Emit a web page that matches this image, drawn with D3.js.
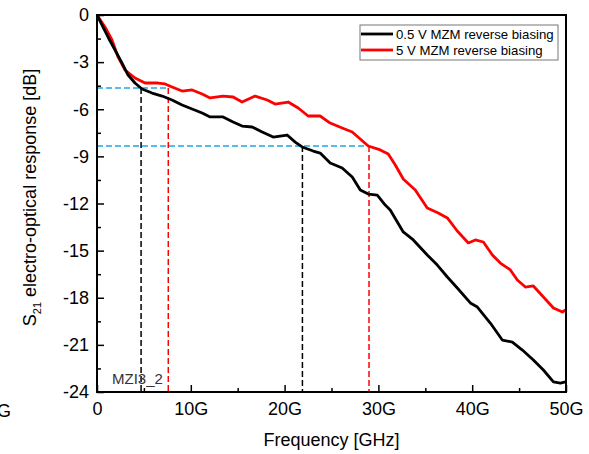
<!DOCTYPE html>
<html>
<head>
<meta charset="utf-8">
<script src="https://cdn.jsdelivr.net/npm/d3@7"></script>
<style>
  body { margin: 0; background: #fff; }
  svg { display: block; font-family: "Liberation Sans", Arial, sans-serif; }
</style>
</head>
<body>
<div id="chart"></div>
<script>
// Frequency in GHz, response in dB
const freqLow = [0, 1.17, 1.92, 2.67, 3.31, 4.05, 4.8, 5.87, 6.94, 8.0, 9.07, 10.14, 11.21, 12.06, 13.44,
    14.51, 15.47, 16.54, 17.61, 18.78, 20.27, 21.13, 21.87, 23.05, 23.79, 24.54, 24.86, 26.14, 27.21,
    28.07, 28.92, 29.88, 30.73, 31.26, 32.65, 33.72, 35.21, 36.28, 37.35, 38.41, 39.8, 40.55, 41.93,
    43.21, 44.28, 45.35, 46.52, 47.59, 48.66, 49.4, 49.94];
const respLow = [0, -1.4, -2.23, -3.06, -3.82, -4.33, -4.71, -4.97, -5.16, -5.41, -5.73, -5.98, -6.24, -6.49, -6.49,
    -6.81, -7.07, -7.13, -7.45, -7.77, -7.64, -8.09, -8.4, -8.66, -8.79, -9.23, -9.42, -9.74, -10.31,
    -11.14, -11.4, -11.46, -12.1, -12.41, -13.81, -14.32, -15.28, -15.92, -16.68, -17.38, -18.33, -18.59, -19.61,
    -20.69, -20.82, -21.33, -21.96, -22.6, -23.36, -23.43, -23.36];

const freqHigh = [0, 0.85, 1.6, 2.24, 2.99, 4.05, 5.12, 6.51, 7.26, 8.0, 9.07, 10.14, 11.21, 12.06, 13.44,
    14.51, 15.47, 16.86, 18.14, 18.99, 20.38, 21.45, 22.51, 23.79, 24.86, 26.14, 27.21, 28.06, 28.92,
    30.2, 31.05, 31.8, 32.65, 33.93, 35.21, 36.38, 37.35, 38.41, 39.59, 40.33, 41.19, 42.15, 43.0,
    44.07, 44.81, 45.67, 46.52, 47.59, 48.66, 49.62, 49.94];
const respHigh = [0, -0.76, -1.59, -2.67, -3.5, -4.01, -4.33, -4.33, -4.39, -4.58, -4.84, -4.77, -5.03, -5.28, -5.16,
    -5.22, -5.54, -5.16, -5.41, -5.67, -5.54, -5.92, -6.43, -6.43, -6.88, -7.19, -7.45, -7.89, -8.34,
    -8.59, -8.85, -9.55, -10.44, -11.14, -12.29, -12.61, -12.92, -13.75, -14.51, -14.32, -14.45, -15.28, -15.79,
    -16.23, -16.87, -17.32, -17.25, -17.95, -18.65, -18.91, -18.78];

const seriesNames = ["0.5 V MZM reverse biasing", "5 V MZM reverse biasing"];
const seriesColors = ["#000000", "#ff0000"];

// marker levels (dB) and where each series crosses them (GHz)
const markLevels = [-4.65, -8.34];
const markLowFreq = [4.7, 21.9];
const markHighFreq = [7.6, 29.0];

const xTicks = [0, 10, 20, 30, 40, 50];
const xTickLabels = ["0", "10G", "20G", "30G", "40G", "50G"];
const yTicks = [0, -3, -6, -9, -12, -15, -18, -21, -24];

const W = 589, H = 454;
const margin = {left: 97, right: 23, top: 15, bottom: 62};

const svg = d3.select("#chart").append("svg")
    .attr("width", W)
    .attr("height", H);

const x = d3.scaleLinear().domain([0, 50]).range([margin.left, W - margin.right]);
const y = d3.scaleLinear().domain([-24, 0]).range([H - margin.bottom, margin.top]);

// dashed guide lines (behind the curves)
const guides = svg.append("g");
markLevels.forEach(function (lvl, i) {
    guides.append("line")
        .attr("x1", x(0)).attr("x2", x(markHighFreq[i]))
        .attr("y1", y(lvl)).attr("y2", y(lvl))
        .attr("stroke", "#1ea6e6").attr("stroke-width", 1.6)
        .attr("stroke-dasharray", "6,3");
    guides.append("line")
        .attr("x1", x(markLowFreq[i])).attr("x2", x(markLowFreq[i]))
        .attr("y1", y(lvl)).attr("y2", y(-24))
        .attr("stroke", "#000").attr("stroke-width", 1.5)
        .attr("stroke-dasharray", "6,3");
    guides.append("line")
        .attr("x1", x(markHighFreq[i])).attr("x2", x(markHighFreq[i]))
        .attr("y1", y(lvl)).attr("y2", y(-24))
        .attr("stroke", "#ff0000").attr("stroke-width", 1.5)
        .attr("stroke-dasharray", "6,3");
});

// curves
const line = d3.line()
    .x(function (d) { return x(d[0]); })
    .y(function (d) { return y(d[1]); });

const series = [
    d3.zip(freqLow, respLow),
    d3.zip(freqHigh, respHigh)
];

[1, 0].forEach(function (i) {
    svg.append("path")
        .datum(series[i])
        .attr("fill", "none")
        .attr("stroke", seriesColors[i])
        .attr("stroke-width", 2.8)
        .attr("stroke-linejoin", "round")
        .attr("d", line);
});

// frame
svg.append("rect")
    .attr("x", x(0)).attr("y", y(0))
    .attr("width", x(50) - x(0)).attr("height", y(-24) - y(0))
    .attr("fill", "none").attr("stroke", "#000").attr("stroke-width", 2);

// axes with inward ticks
const xAxis = svg.append("g")
    .attr("transform", "translate(0," + y(-24) + ")")
    .call(d3.axisBottom(x).tickValues(xTicks).tickSizeInner(-7).tickSizeOuter(0)
        .tickFormat(function (d, i) { return xTickLabels[i]; }));
xAxis.select(".domain").remove();
xAxis.selectAll("line").attr("stroke-width", 1.5);
xAxis.selectAll("text").attr("y", 10).attr("dy", "0.71em")
    .attr("font-size", 18).attr("fill", "#000")
    .attr("font-family", "Liberation Sans, Arial, sans-serif");

const xMinor = svg.append("g")
    .attr("transform", "translate(0," + y(-24) + ")")
    .call(d3.axisBottom(x).tickValues([5, 15, 25, 35, 45]).tickSize(-4).tickFormat(""));
xMinor.select(".domain").remove();
xMinor.selectAll("line").attr("stroke-width", 1.5);

const yAxis = svg.append("g")
    .attr("transform", "translate(" + x(0) + ",0)")
    .call(d3.axisLeft(y).tickValues(yTicks).tickSizeInner(-7).tickSizeOuter(0)
        .tickFormat(function (d) { return String(d); }));
yAxis.select(".domain").remove();
yAxis.selectAll("line").attr("stroke-width", 1.5);
yAxis.selectAll("text").attr("x", -8)
    .attr("font-size", 18).attr("fill", "#000")
    .attr("font-family", "Liberation Sans, Arial, sans-serif");

const yMinor = svg.append("g")
    .attr("transform", "translate(" + x(0) + ",0)")
    .call(d3.axisLeft(y).tickValues(d3.range(-22.5, 0, 3)).tickSize(-4).tickFormat(""));
yMinor.select(".domain").remove();
yMinor.selectAll("line").attr("stroke-width", 1.5);

// stray label clipped at the far left, as in the source figure
svg.append("text")
    .attr("x", 11).attr("y", y(-24) + 25)
    .attr("text-anchor", "end")
    .attr("font-size", 18)
    .text("-10G");

// axis titles
svg.append("text")
    .attr("x", (x(0) + x(50)) / 2)
    .attr("y", 446)
    .attr("text-anchor", "middle")
    .attr("font-size", 18)
    .text("Frequency [GHz]");

const yTitle = svg.append("text")
    .attr("transform", "translate(36," + ((y(0) + y(-24)) / 2 - 6) + ") rotate(-90)")
    .attr("text-anchor", "middle")
    .attr("font-size", 18);
yTitle.append("tspan").text("S");
yTitle.append("tspan").attr("font-size", 11).attr("dy", 5).text("21");
yTitle.append("tspan").attr("dy", -5).text(" electro-optical response [dB]");

// sample label
svg.append("text")
    .attr("x", 112).attr("y", 384)
    .attr("font-size", 15)
    .attr("fill", "#333")
    .text("MZI3_2");

// legend
const legend = svg.append("g").attr("transform", "translate(360,25)");
legend.append("rect")
    .attr("width", 198).attr("height", 35)
    .attr("fill", "#fff").attr("stroke", "#777").attr("stroke-width", 1);
seriesNames.forEach(function (name, i) {
    const ly = 9 + i * 16;
    legend.append("line")
        .attr("x1", 1).attr("x2", 33)
        .attr("y1", ly).attr("y2", ly)
        .attr("stroke", seriesColors[i]).attr("stroke-width", 2.8);
    legend.append("text")
        .attr("x", 36).attr("y", ly + 4.5)
        .attr("font-size", 13.2)
        .text(name);
});
</script>
</body>
</html>
